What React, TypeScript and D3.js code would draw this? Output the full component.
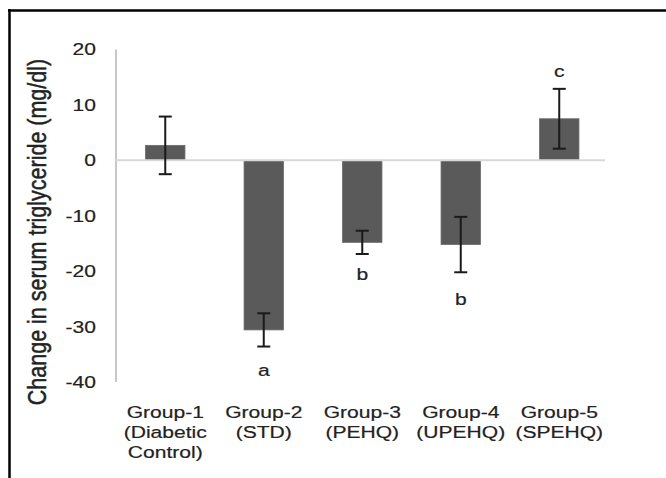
import React from "react";
import * as d3 from "d3";

const groups = ["Group-1", "Group-2", "Group-3", "Group-4", "Group-5"];
const subLabels = [["(Diabetic", "Control)"], ["(STD)"], ["(PEHQ)"], ["(UPEHQ)"], ["(SPEHQ)"]];
const means = [2.7, -30.6, -14.8, -15.2, 7.5];
const errors = [5.2, 3.0, 2.1, 5.0, 5.4];
const letters = ["", "a", "b", "b", "c"];
const letterValues = [0, -38.9, -21.6, -26.1, 15.0];
const yTicks = [20, 10, 0, -10, -20, -30, -40];
const yTitle = "Change in serum triglyceride (mg/dl)";

const W = 666;
const H = 478;
const SX = 1.24;
const FONT = "'Liberation Sans', Arial, sans-serif";
const TXT = "#222";

export default function App() {
  const x = d3
    .scaleBand<string>()
    .domain(groups)
    .range([116, 608.5])
    .paddingInner(0.6)
    .paddingOuter(0.3);
  const y = d3.scaleLinear().domain([-40, 20]).range([382, 49.5]);
  const bw = x.bandwidth();
  const capW = 13;

  const textProps = {
    fontFamily: FONT,
    fontSize: 17,
    fill: TXT,
    stroke: TXT,
    strokeWidth: 0.2,
  };

  return (
    <div style={{ position: "fixed", left: 0, top: 0 }}>
      <svg width={W} height={H} style={{ display: "block", background: "#fff" }}>
        {/* frame */}
        <line x1={8} y1={10.5} x2={W} y2={10.5} stroke="#000" strokeWidth={2.5} />
        <line x1={9.5} y1={9} x2={9.5} y2={H} stroke="#000" strokeWidth={2.5} />

        {/* y axis line */}
        <line x1={116} y1={y(20)} x2={116} y2={y(-40)} stroke="#c8c8c8" strokeWidth={2} />

        {/* bars */}
        {groups.map((g, i) => {
          const v = means[i];
          const x0 = x(g)!;
          return (
            <rect
              key={g}
              x={x0}
              y={Math.min(y(v), y(0))}
              width={bw}
              height={Math.abs(y(v) - y(0))}
              fill="#5a5a5a"
              stroke="#6a6a6a"
              strokeWidth={0.8}
            />
          );
        })}

        {/* zero line */}
        <line x1={116} y1={y(0)} x2={605} y2={y(0)} stroke="#d9d9d9" strokeWidth={2} />

        {/* error bars */}
        {groups.map((g, i) => {
          const cx = x(g)! + bw / 2;
          const hi = y(means[i] + errors[i]);
          const lo = y(means[i] - errors[i]);
          return (
            <g key={g} stroke="#1a1a1a" strokeWidth={2}>
              <line x1={cx} y1={hi} x2={cx} y2={lo} />
              <line x1={cx - capW / 2} y1={hi} x2={cx + capW / 2} y2={hi} />
              <line x1={cx - capW / 2} y1={lo} x2={cx + capW / 2} y2={lo} />
            </g>
          );
        })}

        {/* letters */}
        {groups.map((g, i) =>
          letters[i] ? (
            <text
              key={g}
              transform={`translate(${x(g)! + bw / 2},${y(letterValues[i])}) scale(${SX},1)`}
              textAnchor="middle"
              {...textProps}
            >
              {letters[i]}
            </text>
          ) : null
        )}

        {/* y tick labels */}
        {yTicks.map((t) => (
          <text
            key={t}
            transform={`translate(96,${y(t)}) scale(${SX},1)`}
            textAnchor="end"
            dy="0.35em"
            {...textProps}
          >
            {t}
          </text>
        ))}

        {/* category labels */}
        {groups.map((g, i) => {
          const cx = x(g)! + bw / 2;
          const lines = [g, ...subLabels[i]];
          return lines.map((ln, j) => (
            <text
              key={g + j}
              transform={`translate(${cx},${418 + j * 20}) scale(${SX},1)`}
              textAnchor="middle"
              {...textProps}
            >
              {ln}
            </text>
          ));
        })}

        {/* y axis title */}
        <text
          transform={`translate(46,232) scale(${SX},1) rotate(-90)`}
          textAnchor="middle"
          fontFamily={FONT}
          fontSize={21.5}
          fill={TXT}
          stroke={TXT}
          strokeWidth={0.4}
        >
          {yTitle}
        </text>
      </svg>
    </div>
  );
}
